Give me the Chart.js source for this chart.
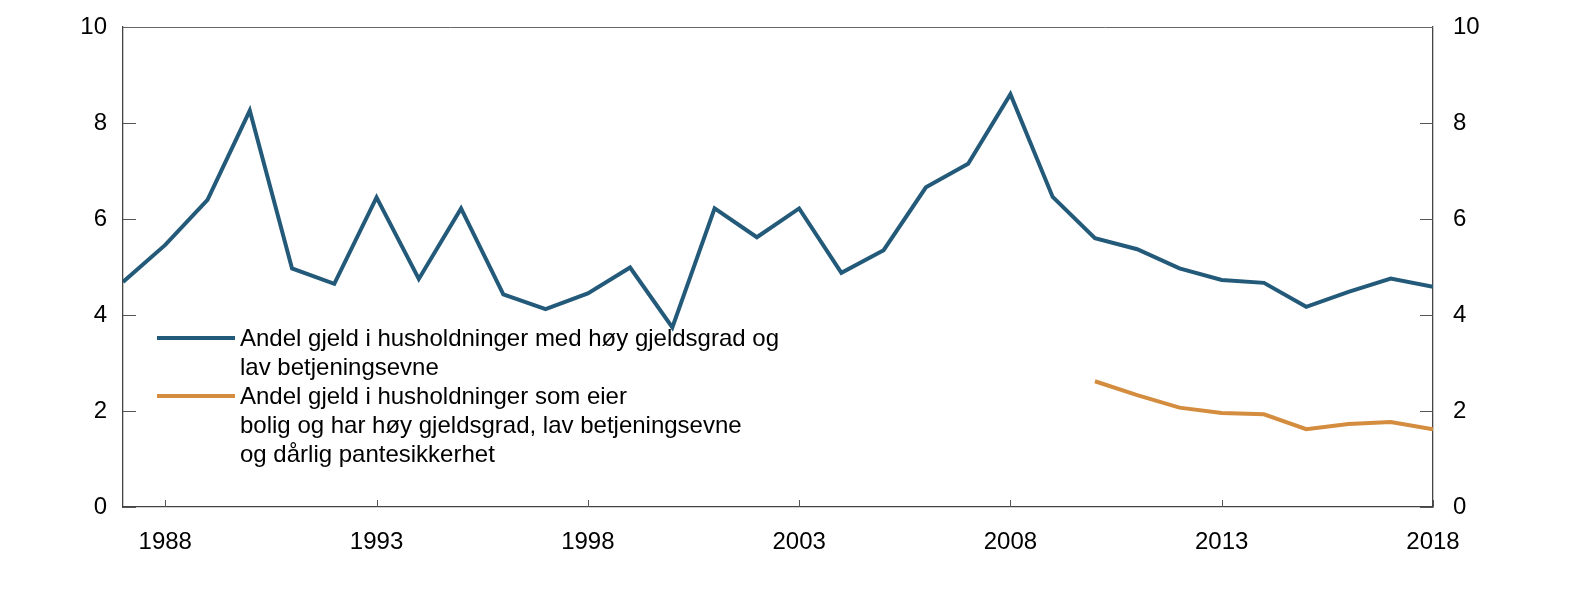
<!DOCTYPE html>
<html>
<head>
<meta charset="utf-8">
<script src="https://cdn.jsdelivr.net/npm/chart.js@4/dist/chart.umd.min.js"></script>
<style>
  html, body { margin: 0; padding: 0; background: #fff; }
  #wrap { width: 1592px; height: 602px; }
</style>
</head>
<body>
<div id="wrap"><canvas id="chart"></canvas></div>
<script>
// data
const years = [1987, 1988, 1989, 1990, 1991, 1992, 1993, 1994, 1995, 1996, 1997, 1998, 1999, 2000, 2001, 2002,
               2003, 2004, 2005, 2006, 2007, 2008, 2009, 2010, 2011, 2012, 2013, 2014, 2015, 2016, 2017, 2018];
const highDebtLowService = [4.69, 5.46, 6.40, 8.26, 4.97, 4.65, 6.45, 4.75, 6.22, 4.43, 4.12, 4.45, 4.99, 3.74, 6.22, 5.62,
                            6.22, 4.88, 5.35, 6.66, 7.15, 8.60, 6.46, 5.60, 5.37, 4.97, 4.73, 4.67, 4.17, 4.48, 4.76, 4.59];
const orangeYears = [2010, 2011, 2012, 2013, 2014, 2015, 2016, 2017, 2018];
const ownersPoorCollateral = [2.62, 2.33, 2.07, 1.96, 1.93, 1.62, 1.73, 1.77, 1.62];
const xTicks = [1988, 1993, 1998, 2003, 2008, 2013, 2018];
const yTicks = [0, 2, 4, 6, 8, 10];

const legendLines = [
  ['Andel gjeld i husholdninger med høy gjeldsgrad og', 'lav betjeningsevne'],
  ['Andel gjeld i husholdninger som eier', 'bolig og har høy gjeldsgrad, lav betjeningsevne', 'og dårlig pantesikkerhet']
];

const blue = '#245a79';
const orange = '#d48c3f';
const FONT = '"Liberation Sans", Arial, Helvetica, sans-serif';
const SIZE = 24;

// keep the plot box where the reference has it
function noOverflow(s) {
  s.paddingTop = 0; s.paddingBottom = 0; s.paddingLeft = 0; s.paddingRight = 0;
}

// inward ticks, top border and the legend
const decorations = {
  id: 'decorations',
  afterDatasetsDraw(chart) {
    const ctx = chart.ctx;
    const a = chart.chartArea;
    const xs = chart.scales.x, yl = chart.scales.y, yr = chart.scales.y2;
    ctx.save();
    ctx.strokeStyle = '#555';
    ctx.lineWidth = 1;
    yTicks.forEach(v => {
      const py = Math.round(yl.getPixelForValue(v)) + 0.5;
      ctx.beginPath(); ctx.moveTo(a.left, py); ctx.lineTo(a.left + 13, py); ctx.stroke();
      const pr = Math.round(yr.getPixelForValue(v)) + 0.5;
      ctx.beginPath(); ctx.moveTo(a.right - 13, pr); ctx.lineTo(a.right, pr); ctx.stroke();
    });
    xTicks.forEach(v => {
      const px = Math.round(xs.getPixelForValue(v)) + 0.5;
      ctx.beginPath(); ctx.moveTo(px, a.bottom); ctx.lineTo(px, a.bottom - 7); ctx.stroke();
    });
    // top frame line
    ctx.strokeStyle = '#666';
    ctx.beginPath(); ctx.moveTo(a.left, a.top + 0.5); ctx.lineTo(a.right, a.top + 0.5); ctx.stroke();

    // legend
    ctx.font = SIZE + 'px ' + FONT;
    ctx.fillStyle = '#000';
    ctx.textBaseline = 'middle';
    let y = a.top + 311;
    chart.data.datasets.forEach((ds, i) => {
      ctx.strokeStyle = ds.borderColor;
      ctx.lineWidth = 4;
      ctx.beginPath(); ctx.moveTo(a.left + 34, y); ctx.lineTo(a.left + 112, y); ctx.stroke();
      legendLines[i].forEach((t, j) => {
        ctx.fillText(t, a.left + 117, y + 1 + j * 29);
      });
      y += legendLines[i].length * 29;
    });
    ctx.restore();
  }
};

new Chart(document.getElementById('chart'), {
  type: 'line',
  data: {
    datasets: [
      {
        label: legendLines[0].join(' '),
        data: years.map((yr, i) => ({ x: yr, y: highDebtLowService[i] })),
        borderColor: blue,
        borderWidth: 4,
        pointRadius: 0,
        tension: 0
      },
      {
        label: legendLines[1].join(' '),
        data: orangeYears.map((yr, i) => ({ x: yr, y: ownersPoorCollateral[i] })),
        borderColor: orange,
        borderWidth: 4,
        pointRadius: 0,
        tension: 0
      }
    ]
  },
  options: {
    responsive: true,
    maintainAspectRatio: false,
    animation: false,
    layout: { padding: { top: 27, left: 0, right: 0, bottom: 0 } },
    plugins: {
      legend: { display: false },
      tooltip: { enabled: false }
    },
    scales: {
      x: {
        type: 'linear',
        min: 1987,
        max: 2018,
        afterBuildTicks: s => { s.ticks = xTicks.map(v => ({ value: v })); },
        afterFit: s => { s.height = 95; noOverflow(s); },
        grid: { display: false },
        border: { display: true, color: '#444', width: 1.3 },
        ticks: {
          color: '#000',
          font: { family: FONT, size: SIZE },
          padding: 13,
          maxRotation: 0,
          autoSkip: false,
          callback: v => String(v)
        }
      },
      y: {
        position: 'left',
        min: 0,
        max: 10,
        afterBuildTicks: s => { s.ticks = yTicks.map(v => ({ value: v })); },
        afterFit: s => { s.width = 123; noOverflow(s); },
        grid: { display: false },
        border: { display: true, color: '#444', width: 1.3 },
        ticks: { color: '#000', font: { family: FONT, size: SIZE }, padding: 8 }
      },
      y2: {
        position: 'right',
        min: 0,
        max: 10,
        afterBuildTicks: s => { s.ticks = yTicks.map(v => ({ value: v })); },
        afterFit: s => { s.width = 159; noOverflow(s); },
        grid: { display: false },
        border: { display: true, color: '#444', width: 1.3 },
        ticks: { color: '#000', font: { family: FONT, size: SIZE }, padding: 12 }
      }
    }
  },
  plugins: [decorations]
});
</script>
</body>
</html>
